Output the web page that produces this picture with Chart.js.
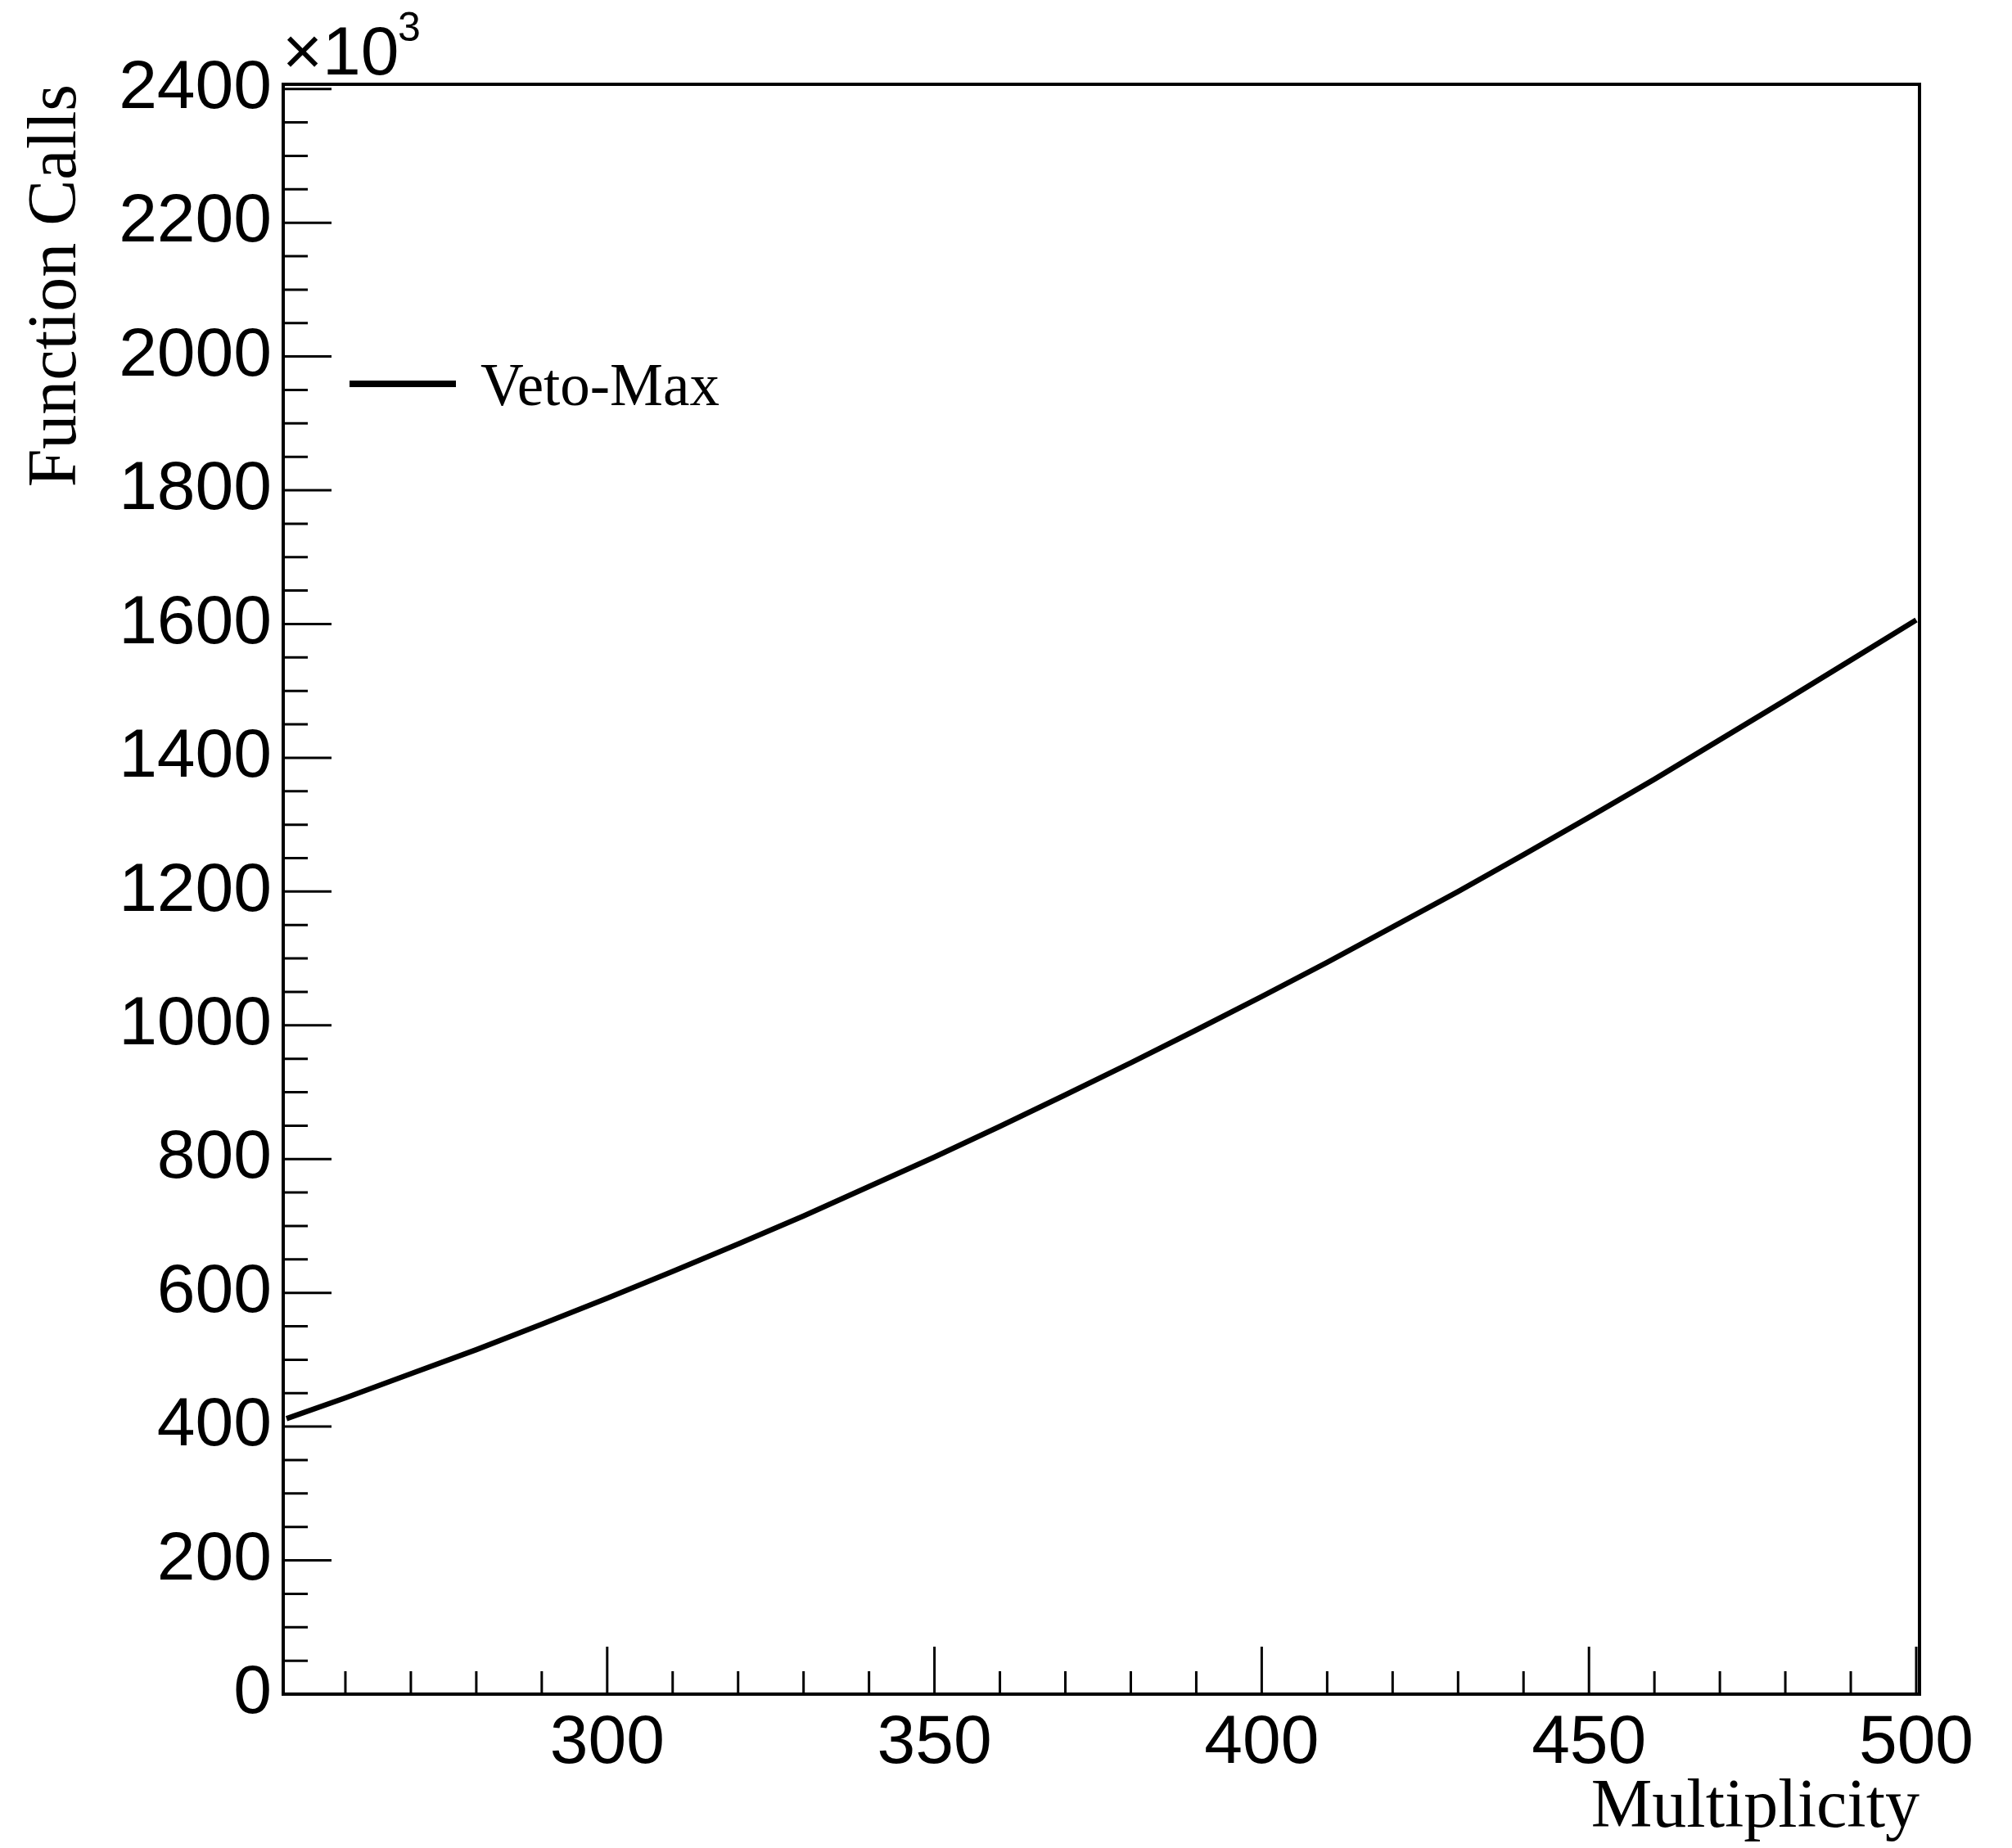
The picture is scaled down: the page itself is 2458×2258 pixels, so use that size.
<!DOCTYPE html>
<html>
<head>
<meta charset="utf-8">
<title>Function Calls vs Multiplicity</title>
<script src="https://cdn.jsdelivr.net/npm/chart.js@4.4.1/dist/chart.umd.min.js"></script>
<style>
  html, body { margin: 0; padding: 0; background: #fff; }
  #wrap { width: 2458px; height: 2258px; }
</style>
</head>
<body>
<div id="wrap"><canvas id="chart" width="2458" height="2258"></canvas></div>
<script>
// --- Data (y in units of 10^3) ---
const multiplicity = [251, 260, 270, 280, 290, 300, 310, 320, 330, 340, 350, 360, 370,
                      380, 390, 400, 410, 420, 430, 440, 450, 460, 470, 480, 490, 500];
const vetoMax = [412, 443, 479, 515, 553, 592, 632, 673, 715, 759, 803, 849, 896,
                 944, 993, 1043, 1094, 1147, 1200, 1255, 1311, 1368, 1427, 1486, 1546, 1606];
const seriesLabel = 'Veto-Max';

// --- Axis ticks ---
const xMajorTicks = [300, 350, 400, 450, 500];
const xMinorTicks = [260, 270, 280, 290, 310, 320, 330, 340, 360, 370, 380, 390,
                     410, 420, 430, 440, 460, 470, 480, 490];
const yMajorTicks = [0, 200, 400, 600, 800, 1000, 1200, 1400, 1600, 1800, 2000, 2200, 2400];
const yMinorTicks = [];
yMajorTicks.forEach(v => { if (v < 2400) [50, 100, 150].forEach(d => yMinorTicks.push(v + d)); });

const SANS = '"Liberation Sans", Arial, Helvetica, sans-serif';
const SERIF = '"Liberation Serif", "Times New Roman", serif';

// frame, inner ticks, exponent and legend, ROOT style
const rootFrame = {
  id: 'rootFrame',
  afterDraw(chart) {
    const { ctx, chartArea: a, scales: { x, y } } = chart;
    ctx.save();
    ctx.strokeStyle = '#000';
    ctx.fillStyle = '#000';

    ctx.lineWidth = 3;
    ctx.beginPath();
    xMajorTicks.forEach(v => { const p = x.getPixelForValue(v); ctx.moveTo(p, a.bottom); ctx.lineTo(p, a.bottom - 58); });
    xMinorTicks.forEach(v => { const p = x.getPixelForValue(v); ctx.moveTo(p, a.bottom); ctx.lineTo(p, a.bottom - 28); });
    yMajorTicks.forEach(v => { const p = y.getPixelForValue(v); ctx.moveTo(a.left, p); ctx.lineTo(a.left + 59, p); });
    yMinorTicks.forEach(v => { const p = y.getPixelForValue(v); ctx.moveTo(a.left, p); ctx.lineTo(a.left + 30, p); });
    ctx.stroke();

    ctx.lineWidth = 4;
    ctx.strokeRect(a.left, a.top, a.right - a.left, a.bottom - a.top);

    // x10^3 exponent
    ctx.textAlign = 'left';
    ctx.textBaseline = 'alphabetic';
    ctx.font = '84px ' + SANS;
    ctx.fillText('\u00d710', 345, 91);
    ctx.font = '50px ' + SANS;
    ctx.fillText('3', 486, 50);

    // legend
    ctx.lineWidth = 8;
    ctx.beginPath();
    ctx.moveTo(427, 469); ctx.lineTo(557, 469);
    ctx.stroke();
    ctx.font = '73px ' + SERIF;
    ctx.fillText(chart.data.datasets[0].label, 587, 495);
    ctx.restore();
  }
};

new Chart(document.getElementById('chart'), {
  type: 'line',
  data: {
    datasets: [{
      label: seriesLabel,
      data: multiplicity.map((m, i) => ({ x: m, y: vetoMax[i] })),
      borderColor: '#000',
      borderWidth: 6.5,
      pointRadius: 0,
      tension: 0,
      fill: false
    }]
  },
  options: {
    responsive: false,
    devicePixelRatio: 1,
    animation: false,
    layout: { padding: { top: 103, right: 113, left: 0, bottom: 0 } },
    plugins: { legend: { display: false }, tooltip: { enabled: false } },
    scales: {
      x: {
        type: 'linear',
        min: 250.5, max: 500.5,
        afterBuildTicks: s => { s.ticks = xMajorTicks.map(v => ({ value: v })); },
        afterFit: s => { s.height = 188; },
        grid: { display: false, drawTicks: false },
        border: { display: false },
        ticks: {
          color: '#000', padding: 19, maxRotation: 0, autoSkip: false,
          font: { family: SANS, size: 84, lineHeight: 1 },
          callback: v => String(v)
        },
        title: {
          display: true, text: 'Multiplicity', align: 'end', color: '#000',
          font: { family: SERIF, size: 84, lineHeight: 1 },
          padding: { top: 0, bottom: 6 }
        }
      },
      y: {
        type: 'linear',
        min: 0, max: 2407,
        afterBuildTicks: s => { s.ticks = yMajorTicks.map(v => ({ value: v })); },
        afterFit: s => { s.width = 346; },
        grid: { display: false, drawTicks: false },
        border: { display: false },
        ticks: {
          color: '#000', padding: 14, autoSkip: false,
          font: { family: SANS, size: 84, lineHeight: 1 },
          callback: v => String(v)
        },
        title: {
          display: true, text: 'Function Calls', align: 'end', color: '#000',
          font: { family: SERIF, size: 84, lineHeight: 1 },
          padding: { top: 28, bottom: 0 }
        }
      }
    }
  },
  plugins: [rootFrame]
});
</script>
</body>
</html>
